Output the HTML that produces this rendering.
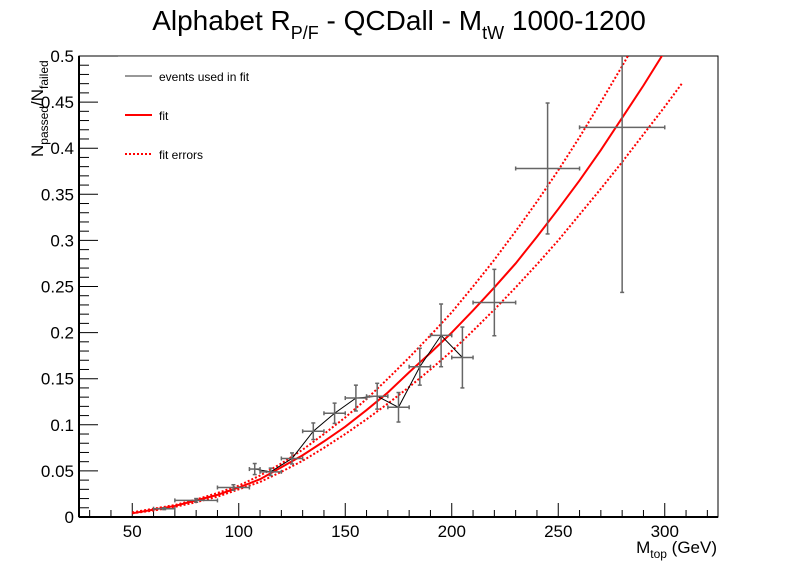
<!DOCTYPE html>
<html><head><meta charset="utf-8"><style>
html,body{margin:0;padding:0;background:#fff;}
svg{display:block;font-family:"Liberation Sans",Arial,sans-serif;}
</style></head><body>
<svg id="chart" width="798" height="575" viewBox="0 0 798 575">
<defs><clipPath id="plotclip"><rect x="79" y="56" width="639" height="461"/></clipPath></defs>
<rect x="0" y="0" width="798" height="575" fill="#fff"/>
<text x="399" y="30" font-size="28" text-anchor="middle">Alphabet R<tspan font-size="18" dy="9">P/F</tspan><tspan dy="-9"> - QCDall - M</tspan><tspan font-size="18" dy="9">tW</tspan><tspan dy="-9"> 1000-1200</tspan></text>
<g id="axes"></g>
<g id="marks" clip-path="url(#plotclip)"></g>
<g id="legend">
<line x1="118" y1="56.5" x2="280" y2="56.5" stroke="#999" stroke-width="1"/>
<line x1="125" y1="76" x2="152" y2="76" stroke="#777" stroke-width="1.5"/>
<text x="159" y="81" font-size="12">events used in fit</text>
<line x1="125" y1="115" x2="152" y2="115" stroke="#f00" stroke-width="2"/>
<text x="159" y="120" font-size="12">fit</text>
<line x1="125" y1="154" x2="152" y2="154" stroke="#f00" stroke-width="2" stroke-dasharray="2,2"/>
<text x="159" y="159" font-size="12">fit errors</text>
</g>
<text transform="translate(43,157) rotate(-90)" font-size="17">N<tspan font-size="12" dy="5">passed</tspan><tspan dy="-5">/N</tspan><tspan font-size="12" dy="5">failed</tspan></text>
<text x="717" y="553" font-size="17" text-anchor="end">M<tspan font-size="12" dy="5">top</tspan><tspan dy="-5"> (GeV)</tspan></text>
</svg>
<script>
const ptX=[65,80,97.5,107.5,115,125,135,145,155,165,175,185,195,205,220,245,280];
const ptXerr=[5,10,7.5,2.5,5,5,5,5,5,5,5,5,5,5,10,15,20];
const ptY=[0.009,0.018,0.032,0.052,0.049,0.0635,0.093,0.1125,0.129,0.131,0.119,0.163,0.197,0.173,0.2326,0.378,0.4226];
const ptYerr=[0.001,0.002,0.003,0.006,0.004,0.006,0.009,0.011,0.014,0.014,0.016,0.02,0.034,0.033,0.036,0.071,0.179];
const lineIdx=[3,4,5,6,7,8,9,10,11,12,13];
const fitX=[50,60,70,80,90,100,110,120,130,140,150,160,170,180,190,200,210,220,230,240,250,260,270,280,290,300];
const fitY=[0.004,0.008,0.012,0.018,0.024,0.032,0.041,0.054,0.067,0.082,0.098,0.116,0.135,0.157,0.178,0.200,0.224,0.249,0.275,0.304,0.334,0.365,0.398,0.433,0.468,0.505];
const upX=[50,60,70,80,90,100,110,120,130,140,150,160,170,180,190,200,210,220,230,240,250,260,270,280,290];
const upY=[0.005,0.009,0.013,0.019,0.026,0.034,0.045,0.058,0.073,0.090,0.108,0.128,0.150,0.173,0.197,0.222,0.250,0.279,0.310,0.342,0.376,0.412,0.450,0.489,0.530];
const loX=[50,60,70,80,90,100,110,120,130,140,150,160,170,180,190,200,210,220,230,240,250,260,270,280,290,300,308];
const loY=[0.004,0.007,0.011,0.016,0.022,0.030,0.038,0.049,0.061,0.075,0.090,0.106,0.123,0.141,0.160,0.180,0.202,0.225,0.249,0.274,0.300,0.328,0.356,0.385,0.415,0.445,0.47];
const xTicks=[50,100,150,200,250,300];
const yTicks=[0,0.05,0.1,0.15,0.2,0.25,0.3,0.35,0.4,0.45,0.5];
const yTickLabels=["0","0.05","0.1","0.15","0.2","0.25","0.3","0.35","0.4","0.45","0.5"];

const X0=79,X1=718,Y0=517,Y1=56,xmin=25,xmax=325,ymin=0,ymax=0.5;
function sx(v){return X0+(v-xmin)/(xmax-xmin)*(X1-X0);}
function sy(v){return Y0-(v-ymin)/(ymax-ymin)*(Y0-Y1);}
const NS="http://www.w3.org/2000/svg";
function mk(tag,attrs,parent){const e=document.createElementNS(NS,tag);for(const k in attrs)e.setAttribute(k,attrs[k]);parent.appendChild(e);return e;}
const axes=document.getElementById('axes'),marks=document.getElementById('marks');

const frame=mk('rect',{x:X0,y:Y1,width:X1-X0,height:Y0-Y1,fill:'none',stroke:'#000','stroke-width':1},axes);


for(let v=30;v<=320;v+=10){
  const major=xTicks.includes(v);
  const t=mk('line',{x1:sx(v),x2:sx(v),y1:Y0,y2:Y0-(major?14:7),stroke:'#000','stroke-width':1},axes);
  
  
}
xTicks.forEach(v=>{
  const t=mk('text',{x:sx(v),y:Y0+20,'font-size':17,'text-anchor':'middle'},axes);t.textContent=String(v);
  
  
});
for(let i=0;i<=50;i++){
  const v=i*0.01;const major=i%5===0;
  const t=mk('line',{x1:X0,x2:X0+(major?19:10),y1:sy(v),y2:sy(v),stroke:'#000','stroke-width':1},axes);
  
  
}
yTicks.forEach((v,i)=>{
  const t=mk('text',{x:X0-5,y:sy(v)+6,'font-size':17,'text-anchor':'end'},axes);t.textContent=yTickLabels[i];
  
  
});
const ax2=mk('line',{x1:X0,x2:X1,y1:Y0,y2:Y0,stroke:'#000','stroke-width':2},axes);


const ay=mk('line',{x1:X0,x2:X0,y1:Y0,y2:Y1,stroke:'#000','stroke-width':2},axes);



function pts(xs,ys){return xs.map((x,i)=>sx(x)+','+sy(ys[i])).join(' ');}
const lo=mk('polyline',{points:pts(loX,loY),fill:'none',stroke:'#f00','stroke-width':2,'stroke-dasharray':'2,2'},marks);


const up=mk('polyline',{points:pts(upX,upY),fill:'none',stroke:'#f00','stroke-width':2,'stroke-dasharray':'2,2'},marks);


const fl=mk('polyline',{points:pts(fitX,fitY),fill:'none',stroke:'#f00','stroke-width':2},marks);



const cl=mk('polyline',{points:pts(lineIdx.map(i=>ptX[i]),lineIdx.map(i=>ptY[i])),fill:'none',stroke:'#000','stroke-width':1},marks);


ptX.forEach((x,i)=>{
  const g=mk('g',{stroke:'#666','stroke-width':1.5},marks);
  
  
  const xl=sx(x-ptXerr[i]),xr=sx(x+ptXerr[i]),yc=sy(ptY[i]),yt=sy(ptY[i]+ptYerr[i]),yb=sy(ptY[i]-ptYerr[i]),xc=sx(x);
  mk('line',{x1:xl,x2:xr,y1:yc,y2:yc},g);
  mk('line',{x1:xc,x2:xc,y1:yt,y2:yb},g);
  mk('line',{x1:xl,x2:xl,y1:yc-2,y2:yc+2},g);
  mk('line',{x1:xr,x2:xr,y1:yc-2,y2:yc+2},g);
  mk('line',{x1:xc-2,x2:xc+2,y1:yt,y2:yt},g);
  mk('line',{x1:xc-2,x2:xc+2,y1:yb,y2:yb},g);
});
</script>
</body></html>
